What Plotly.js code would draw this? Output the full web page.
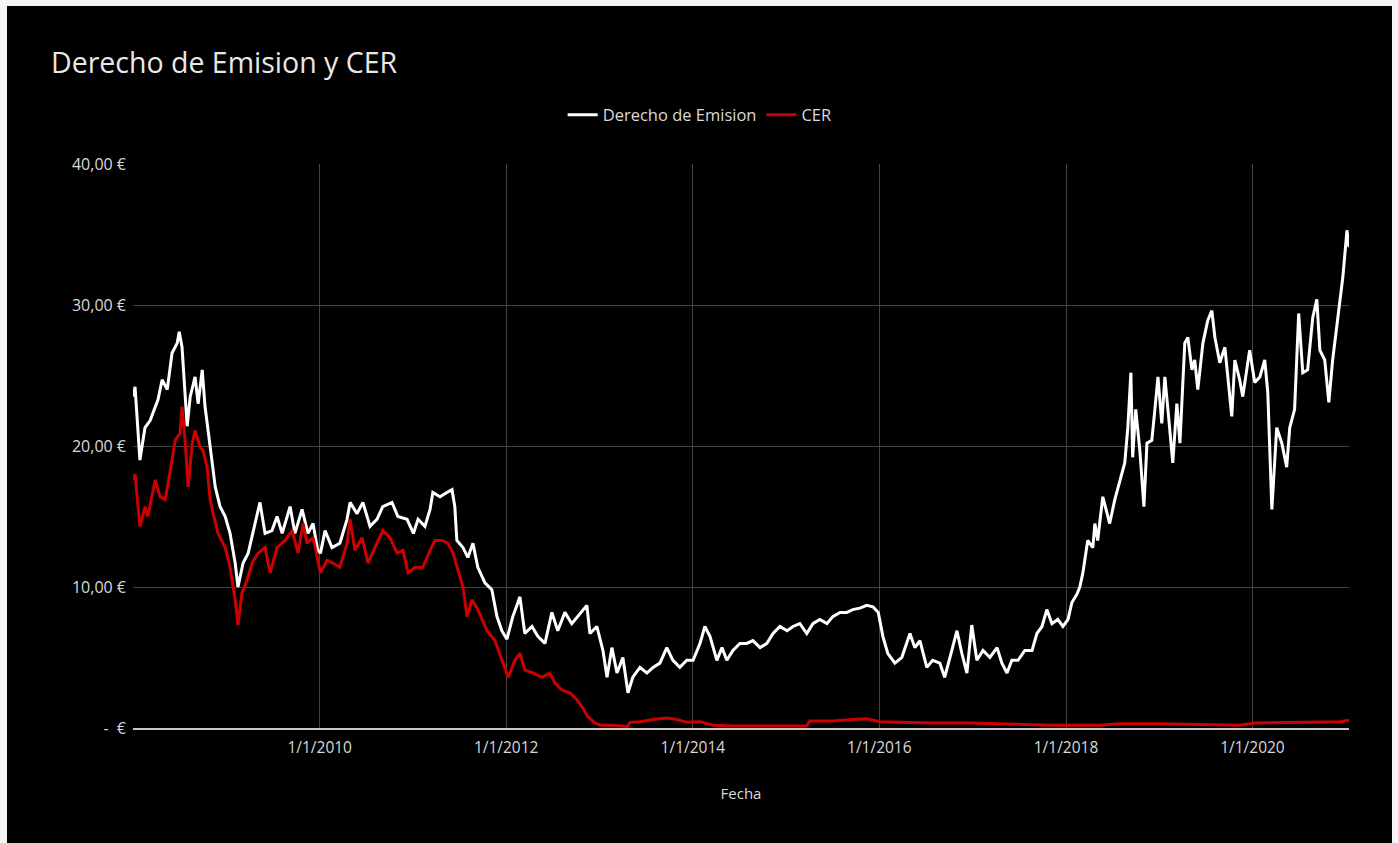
<!DOCTYPE html>
<html>
<head>
<meta charset="utf-8">
<script src="https://cdn.plot.ly/plotly-3.0.1.min.js"></script>
<style>
  html, body { margin: 0; padding: 0; background: #f4f4f4; width: 1398px; height: 843px; overflow: hidden; }
  #chart { position: absolute; left: 7px; top: 6px; width: 1385px; height: 837px; background: #000; }
</style>
</head>
<body>
<div id="chart"></div>
<script>
// ---- Data ----
const chartTitle = "Derecho de Emision y CER";
const seriesNames = ["Derecho de Emision", "CER"];
const xTitle = "Fecha";

const yTickVals = [0, 10, 20, 30, 40];
const yTickText = [" -  €", "10,00 €", "20,00 €", "30,00 €", "40,00 €"];
const xTickVals = ["2010-01-01", "2012-01-01", "2014-01-01", "2016-01-01", "2018-01-01", "2020-01-01"];
const xTickText = ["1/1/2010", "1/1/2012", "1/1/2014", "1/1/2016", "1/1/2018", "1/1/2020"];

const euaDates = [
  "2008-01-02","2008-01-09","2008-01-28","2008-02-17","2008-03-08","2008-04-08","2008-04-24","2008-05-14",
  "2008-06-02","2008-06-22","2008-06-30","2008-07-11","2008-07-31","2008-08-12","2008-08-31","2008-09-12",
  "2008-09-28","2008-10-09","2008-10-21","2008-11-06","2008-11-18","2008-12-07","2008-12-27",
  "2009-01-15","2009-02-04","2009-02-15","2009-03-07","2009-03-27","2009-04-15","2009-05-12","2009-06-01",
  "2009-06-28","2009-07-18","2009-08-07","2009-09-07","2009-09-26","2009-10-24","2009-11-16","2009-12-06",
  "2009-12-24",
  "2010-01-04","2010-01-22","2010-02-18","2010-03-21","2010-04-18","2010-04-30","2010-05-27","2010-06-19",
  "2010-07-17","2010-08-13","2010-09-05","2010-10-11","2010-11-03","2010-12-09",
  "2011-01-03","2011-01-21","2011-02-17","2011-03-09","2011-03-20","2011-04-17","2011-05-14","2011-06-03",
  "2011-06-14","2011-06-22","2011-07-16","2011-08-04","2011-08-24","2011-09-12","2011-10-10","2011-11-06",
  "2011-11-26","2011-12-15",
  "2012-01-04","2012-01-27","2012-02-24","2012-03-14","2012-04-11","2012-05-04","2012-06-01","2012-06-28",
  "2012-07-21","2012-08-18","2012-09-14","2012-10-08","2012-11-12","2012-11-24","2012-12-21",
  "2013-01-14","2013-01-30","2013-02-18","2013-03-10","2013-04-02","2013-04-22","2013-05-11","2013-06-08",
  "2013-07-05","2013-07-29","2013-08-25","2013-09-21","2013-10-15","2013-11-11","2013-12-08",
  "2014-01-02","2014-01-29","2014-02-17","2014-03-09","2014-04-05","2014-04-25","2014-05-14","2014-06-07",
  "2014-07-04","2014-07-31","2014-08-24","2014-09-21","2014-10-18","2014-11-11","2014-12-08",
  "2015-01-05","2015-01-28","2015-02-24","2015-03-23","2015-04-16","2015-05-13","2015-06-10","2015-07-03",
  "2015-07-31","2015-08-27","2015-09-19","2015-10-17","2015-11-13","2015-12-07","2015-12-28",
  "2016-01-15","2016-02-03","2016-03-02","2016-03-29","2016-04-30","2016-05-19","2016-06-08","2016-07-05",
  "2016-07-28","2016-08-25","2016-09-13","2016-10-11","2016-10-31","2016-11-19","2016-12-09","2016-12-28",
  "2017-01-17","2017-02-10","2017-03-09","2017-04-06","2017-04-25","2017-05-15","2017-06-03","2017-06-27",
  "2017-07-24","2017-08-21","2017-09-09","2017-09-29","2017-10-18","2017-11-07","2017-11-30","2017-12-20",
  "2018-01-09","2018-01-24","2018-02-13","2018-02-24","2018-03-08","2018-03-27","2018-04-16","2018-04-24",
  "2018-05-05","2018-05-25","2018-06-21","2018-07-11","2018-07-31","2018-08-19","2018-08-31","2018-09-12",
  "2018-09-19","2018-10-01","2018-10-17","2018-11-02","2018-11-14","2018-12-03","2018-12-15","2018-12-27",
  "2019-01-11","2019-01-23","2019-02-04","2019-02-23","2019-03-11","2019-03-23","2019-04-11","2019-04-23",
  "2019-05-09","2019-05-20","2019-06-01","2019-06-21","2019-07-10","2019-07-26","2019-08-07","2019-08-26",
  "2019-09-15","2019-09-27","2019-10-12","2019-10-24","2019-11-12","2019-11-24","2019-12-21",
  "2020-01-10","2020-01-30","2020-02-18","2020-03-01","2020-03-17","2020-04-05","2020-04-25","2020-05-14",
  "2020-05-26","2020-06-14","2020-06-30","2020-07-16","2020-08-04","2020-08-24","2020-09-09","2020-09-21",
  "2020-10-10","2020-10-26","2020-11-10","2020-11-30","2020-12-20","2021-01-05","2021-01-13"
];
const euaValues = [
  23.5,24.2,19.0,21.3,21.8,23.3,24.7,24.0,
  26.6,27.3,28.1,27.0,21.4,23.5,24.9,23.0,
  25.4,22.8,21.1,19.0,17.1,15.7,15.0,
  13.8,11.7,10.0,11.7,12.4,13.8,16.0,13.8,
  14.0,15.0,13.8,15.7,13.8,15.5,13.8,14.5,
  12.6,
  12.4,14.0,12.8,13.1,14.8,16.0,15.2,16.0,
  14.3,14.8,15.7,16.0,15.0,14.8,
  13.8,14.8,14.3,15.5,16.7,16.4,16.7,16.9,
  15.7,13.3,12.8,12.1,13.1,11.4,10.3,9.8,
  7.9,6.9,
  6.3,7.9,9.3,6.7,7.2,6.5,6.0,8.2,
  6.9,8.2,7.4,7.9,8.7,6.7,7.2,
  5.5,3.6,5.7,3.9,5.0,2.5,3.6,4.3,
  3.9,4.3,4.6,5.7,4.8,4.3,4.8,
  4.8,6.0,7.2,6.5,4.8,5.7,4.8,5.5,
  6.0,6.0,6.2,5.7,6.0,6.7,7.2,
  6.9,7.2,7.4,6.7,7.4,7.7,7.4,7.9,
  8.2,8.2,8.4,8.5,8.7,8.6,8.2,
  6.5,5.3,4.6,5.0,6.7,5.7,6.2,4.3,
  4.8,4.6,3.6,5.5,6.9,5.3,3.9,7.3,
  4.8,5.5,5.0,5.7,4.6,3.9,4.8,4.8,
  5.5,5.5,6.7,7.2,8.4,7.4,7.7,7.2,
  7.7,8.9,9.5,10.0,11.0,13.3,12.8,14.5,
  13.3,16.4,14.5,16.2,17.6,18.8,21.3,25.2,
  19.2,22.6,19.7,15.7,20.2,20.4,22.6,24.9,
  21.6,24.9,22.6,18.8,23.0,20.2,27.3,27.7,
  25.4,26.1,24.0,27.3,28.9,29.6,27.7,25.9,
  27.0,24.7,22.1,26.1,24.7,23.5,26.8,
  24.5,24.9,26.1,23.8,15.5,21.3,20.2,18.5,
  21.3,22.6,29.4,25.2,25.4,29.1,30.4,26.8,
  26.1,23.1,26.1,28.9,32.0,35.3,34.1
];

const cerDates = [
  "2008-01-02","2008-01-09","2008-01-28","2008-02-17","2008-02-28","2008-03-28","2008-04-16","2008-05-06",
  "2008-06-02","2008-06-14","2008-07-03","2008-07-11","2008-07-23","2008-08-04","2008-08-20","2008-08-31",
  "2008-09-20","2008-10-01","2008-10-17","2008-10-29","2008-11-10","2008-11-29","2008-12-27",
  "2009-01-15","2009-02-04","2009-02-15","2009-03-03","2009-03-23","2009-04-11","2009-05-05","2009-06-01",
  "2009-06-21","2009-07-18","2009-08-18","2009-09-15","2009-10-08","2009-10-28","2009-11-12","2009-12-06",
  "2010-01-04","2010-01-30","2010-02-22","2010-03-21","2010-04-18","2010-04-30","2010-05-19","2010-06-16",
  "2010-07-09","2010-08-05","2010-09-05","2010-10-03","2010-10-31","2010-11-23","2010-12-13",
  "2011-01-09","2011-02-09","2011-03-09","2011-03-28","2011-04-25","2011-05-18","2011-06-07","2011-06-26",
  "2011-07-16","2011-08-01","2011-08-20","2011-09-12","2011-10-18","2011-11-18","2011-12-15",
  "2012-01-09","2012-02-04","2012-02-24","2012-03-14","2012-04-15","2012-05-20","2012-06-20","2012-07-10",
  "2012-08-06","2012-09-06","2012-10-04","2012-10-24","2012-11-16","2012-12-14",
  "2013-01-03","2013-02-22","2013-04-18","2013-04-30","2013-06-08","2013-07-29","2013-09-21","2013-10-31",
  "2013-12-08","2014-01-29","2014-03-20","2014-06-07","2014-10-18","2015-03-23","2015-04-04","2015-07-03",
  "2015-09-19","2015-11-13","2016-01-04","2016-03-09","2016-07-17","2016-12-20","2017-05-26","2017-10-30",
  "2018-05-13","2018-07-31","2019-01-03","2019-06-08","2019-11-12","2020-01-10","2020-05-26","2020-09-21",
  "2020-12-08","2021-01-13"
];
const cerValues = [
  17.6,18.0,14.3,15.7,15.0,17.6,16.4,16.2,
  19.0,20.4,20.9,22.8,20.4,17.1,20.2,21.1,
  19.9,19.7,18.5,16.2,15.2,13.8,12.8,
  11.4,9.1,7.3,9.6,10.5,11.7,12.4,12.8,
  11.0,12.8,13.3,14.0,12.4,14.5,13.1,13.5,
  11.0,11.9,11.7,11.4,13.1,14.8,12.6,13.5,
  11.7,12.8,14.0,13.5,12.4,12.6,11.0,
  11.4,11.4,12.6,13.3,13.3,13.1,12.4,11.2,
  10.0,7.9,9.1,8.4,6.9,6.2,4.8,
  3.6,4.8,5.3,4.1,3.9,3.6,3.9,3.2,
  2.7,2.5,2.0,1.5,0.8,0.35,
  0.2,0.2,0.1,0.4,0.45,0.6,0.7,0.6,
  0.4,0.45,0.2,0.15,0.15,0.15,0.5,0.5,
  0.6,0.65,0.45,0.4,0.35,0.35,0.25,0.2,
  0.2,0.3,0.3,0.25,0.2,0.35,0.4,0.4,
  0.45,0.55
];

const textColor = "#d9d9d9";
const fontFamily = "'Open Sans', 'Noto Sans', sans-serif";

const traces = [
  {
    type: "scatter", mode: "lines", name: seriesNames[0],
    x: euaDates, y: euaValues,
    line: { color: "#ffffff", width: 3 }
  },
  {
    type: "scatter", mode: "lines", name: seriesNames[1],
    x: cerDates, y: cerValues,
    line: { color: "#cc0000", width: 3 }
  }
];

const layout = {
  width: 1385, height: 837,
  paper_bgcolor: "#000000", plot_bgcolor: "#000000",
  margin: { l: 126, r: 43, t: 158, b: 115, autoexpand: false },
  font: { family: fontFamily, color: textColor, size: 15 },
  title: {
    text: chartTitle,
    xref: "container", yref: "container",
    x: 44 / 1385, xanchor: "left",
    y: 1 - 57 / 837, yanchor: "middle",
    font: { family: fontFamily, size: 28.5, color: "#e8e8e8" }
  },
  showlegend: true,
  legend: {
    orientation: "h",
    x: 0.466, xanchor: "center",
    y: 1.087, yanchor: "middle",
    font: { family: fontFamily, size: 16.5, color: textColor },
    bgcolor: "rgba(0,0,0,0)",
    itemwidth: 30
  },
  xaxis: {
    type: "date",
    range: ["2008-01-01", "2021-01-13"],
    tickvals: xTickVals, ticktext: xTickText,
    tickangle: 0, automargin: false,
    showgrid: true, gridcolor: "#444444", gridwidth: 1,
    showline: true, linecolor: "#c8c8c8", linewidth: 1.5,
    ticks: "", zeroline: false,
    ticklabelstandoff: 5,
    tickfont: { family: fontFamily, size: 15.5, color: textColor },
    title: { text: xTitle, standoff: 31, font: { family: fontFamily, size: 15, color: textColor } }
  },
  yaxis: {
    range: [0, 40],
    automargin: false,
    tickvals: yTickVals, ticktext: yTickText,
    showgrid: true, gridcolor: "#444444", gridwidth: 1,
    showline: false, zeroline: false, ticks: "",
    ticklabelstandoff: 6,
    tickfont: { family: fontFamily, size: 16, color: textColor }
  },
  hovermode: false
};

Plotly.newPlot("chart", traces, layout, { displayModeBar: false, staticPlot: true });
</script>
</body>
</html>
